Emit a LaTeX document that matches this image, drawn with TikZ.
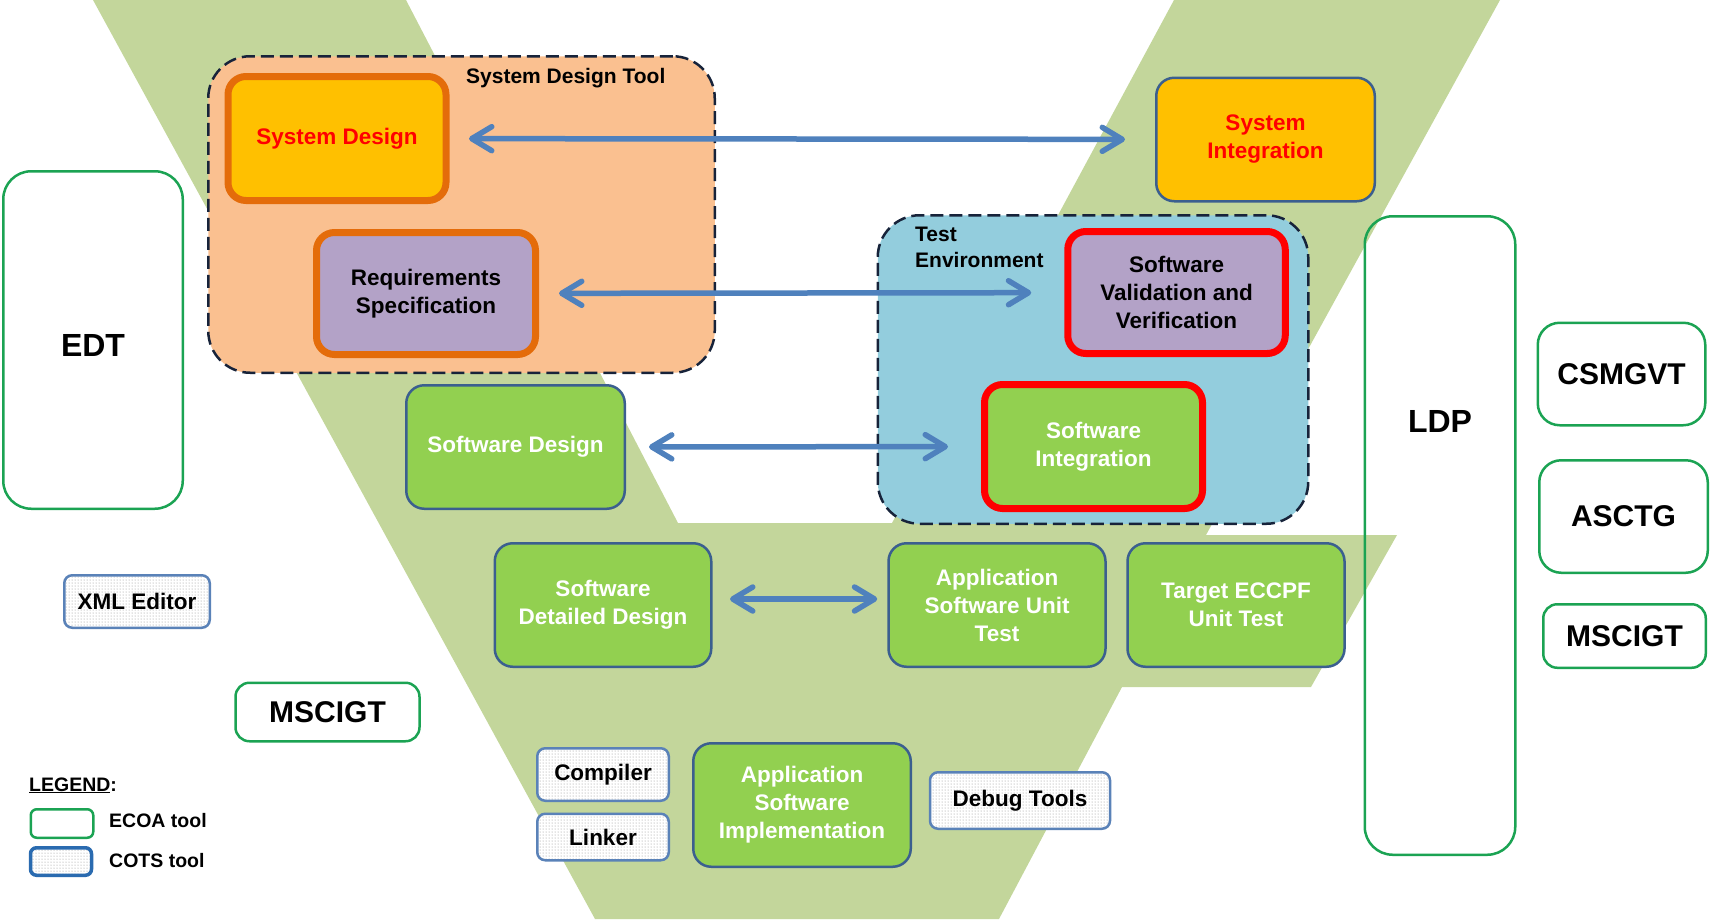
\documentclass[tikz,border=0pt]{standalone}
\usepackage{fontspec}
\setmainfont{Liberation Sans}
\usetikzlibrary{arrows.meta,patterns}
\definecolor{vgreen}{HTML}{C3D69B}
\definecolor{peach}{HTML}{FAC090}
\definecolor{teal}{HTML}{93CDDD}
\definecolor{lavender}{HTML}{B3A2C7}
\definecolor{gold}{HTML}{FFC000}
\definecolor{stagegreen}{HTML}{92D050}
\definecolor{rimorange}{HTML}{E46C0A}
\definecolor{rimred}{HTML}{FF0000}
\definecolor{edgeblue}{HTML}{3B5F8F}
\definecolor{arrowblue}{HTML}{4F81BD}
\definecolor{navy}{HTML}{17233A}
\definecolor{ecoagreen}{HTML}{1BA353}
\definecolor{cotsblue}{HTML}{5A82B8}
\definecolor{cotsdark}{HTML}{2A6BB0}
\newcommand{\vstagefont}{\fontsize{22.5}{28}\selectfont\bfseries}
\newcommand{\vlabelfont}{\fontsize{21}{26}\selectfont\bfseries}
\newcommand{\vlegendfont}{\fontsize{19.5}{24}\selectfont\bfseries}
\newcommand{\vtoolfont}{\fontsize{30}{36}\selectfont\bfseries}
\newcommand{\vbigfont}{\fontsize{32}{38}\selectfont\bfseries}
\tikzset{
	stage/.style={draw=edgeblue, line width=2.5pt, fill=stagegreen, rounded corners=18pt, text=white, align=center, font=\vstagefont, inner sep=0pt},
	orangerim/.style={draw=rimorange, line width=7pt},
	redrim/.style={draw=rimred, line width=7pt},
	ecoa/.style={draw=ecoagreen, line width=2.5pt, fill=white, rounded corners=14pt, font=\vtoolfont, inner sep=0pt},
	cots/.style={draw=cotsblue, line width=2.5pt, preaction={fill=white}, pattern=dots, pattern color=black!45, rounded corners=8pt, font=\vstagefont, inner sep=0pt},
	zone/.style={draw=navy, line width=2.5pt, dash pattern=on 13pt off 6pt, rounded corners=42pt, inner sep=0pt},
	zonelabel/.style={font=\vlabelfont, inner sep=0pt, align=left},
	legendtext/.style={font=\vlegendfont, inner sep=0pt, anchor=base west},
	biarrow/.style={draw=arrowblue, line width=5.5pt, {Straight Barb[length=20pt,width=24pt,round]}-{Straight Barb[length=20pt,width=24pt,round]}}
}
\begin{document}
\begin{tikzpicture}[x=1pt,y=-1pt]
	\useasboundingbox (0,0) rectangle (1712,919);
	\fill[vgreen] (93,0) -- (406,0) -- (678,523) -- (892,523) -- (1174,0) -- (1500,0) -- (1206,535) -- (1397,535) -- (1311,687) -- (1122,687) -- (999,919) -- (595,919) -- cycle;
	
	\node[zone, fill=peach, minimum width=506.5, minimum height=316.5] (sdtool) at (461.5,214.5) {};
	\node[zonelabel, anchor=base west] (sdtoollabel) at (466,83) {System Design Tool};
	\node[zone, fill=teal, minimum width=430.5, minimum height=308.5] (testenv) at (1093,369.5) {};
	\node[zonelabel, anchor=north west] (testenvlabel) at (915,227) {Test\\Environment};
	
	\node[stage, orangerim, fill=gold, text=rimred, minimum width=218, minimum height=124] (sysdesign) at (337,138.5) {System Design};
	\node[stage, orangerim, fill=lavender, text=black, minimum width=219, minimum height=122] (reqspec) at (426,293.5) {Requirements\\Specification};
	\node[stage, fill=gold, text=rimred, minimum width=218.5, minimum height=123.5] (sysint) at (1265.5,139.5) {System\\Integration};
	\node[stage, redrim, fill=lavender, text=black, minimum width=217.5, minimum height=122] (swvalid) at (1176.5,292.5) {Software\\Validation and\\Verification};
	\node[stage, redrim, minimum width=218, minimum height=124] (swint) at (1093.5,446.5) {Software\\Integration};
	\node[stage, minimum width=218.5, minimum height=123.5] (swdesign) at (515.5,447) {Software Design};
	\node[stage, minimum width=216.5, minimum height=123.5] (swdetail) at (603,605) {Software\\Detailed Design};
	\node[stage, minimum width=217, minimum height=123.5] (unittest) at (997,605) {Application\\Software Unit\\Test};
	\node[stage, minimum width=217, minimum height=123.5] (eccpftest) at (1236,605) {Target ECCPF\\Unit Test};
	\node[stage, minimum width=217.5, minimum height=123.5] (appimpl) at (802,805) {Application\\Software\\Implementation};
	
	\node[cots, minimum width=131.5, minimum height=52.5] (compiler) at (603,774.5) {Compiler};
	\node[cots, minimum width=131.5, minimum height=46.5] (linker) at (603,837) {Linker};
	\node[cots, minimum width=180, minimum height=56.5] (debugtools) at (1020,800.5) {Debug Tools};
	\node[cots, minimum width=145.5, minimum height=52.5] (xmleditor) at (137,601.5) {XML Editor};
	
	\node[ecoa, rounded corners=28pt, minimum width=179.5, minimum height=337.5, label={[font=\vbigfont, yshift=-5.5pt]center:EDT}] (edt) at (93,340) {};
	\node[ecoa, minimum width=184, minimum height=58.5] (mscigtleft) at (327.5,712) {MSCIGT};
	\node[ecoa, fill=none, rounded corners=28pt, minimum width=150.5, minimum height=638.5, label={[font=\vbigfont, yshift=114.5pt]center:LDP}] (ldp) at (1440,535.5) {};
	\node[ecoa, rounded corners=22pt, minimum width=167.5, minimum height=102.5] (csmgvt) at (1621.5,374) {CSMGVT};
	\node[ecoa, rounded corners=22pt, minimum width=168.5, minimum height=112.5] (asctg) at (1623.5,516.5) {ASCTG};
	\node[ecoa, minimum width=162.5, minimum height=63.5] (mscigtright) at (1624.5,636) {MSCIGT};
	
	\draw[biarrow, shorten <=19.5pt, shorten >=30pt] (sysdesign) -- (sysint);
	\draw[biarrow, shorten <=20pt, shorten >=33pt] (reqspec) -- (swvalid);
	\draw[biarrow, shorten <=23pt, shorten >=33pt] (swdesign) -- (swint);
	\draw[biarrow, shorten <=17.5pt, shorten >=10pt] ([yshift=6pt]swdetail.east) -- ([yshift=6pt]unittest.west);
	
	\node[legendtext] (legendtitle) at (29,791) {\underline{LEGEND}:};
	\node[ecoa, rounded corners=6pt, minimum width=62.5, minimum height=28.5] (ecoakey) at (62,823.5) {};
	\node[legendtext] (ecoakeytext) at (109,827) {ECOA tool};
	\node[cots, draw=cotsdark, line width=3.5pt, rounded corners=6pt, minimum width=61, minimum height=27.5] (cotskey) at (61,861.5) {};
	\node[legendtext] (cotskeytext) at (109,867) {COTS tool};
\end{tikzpicture}
\end{document}
